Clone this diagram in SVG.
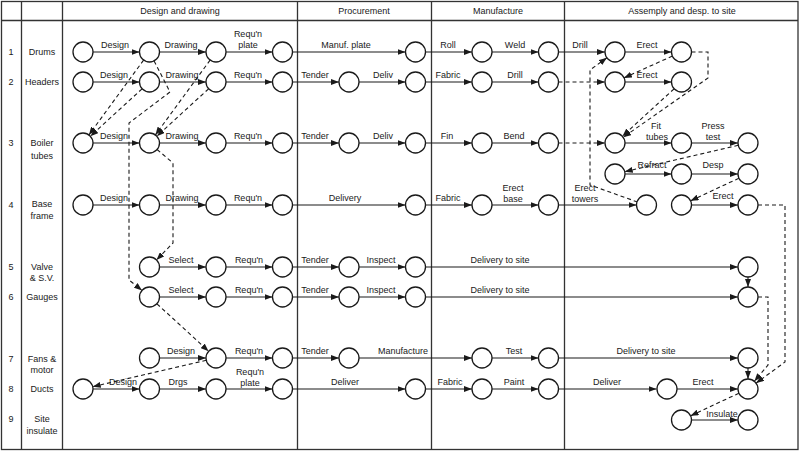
<svg xmlns="http://www.w3.org/2000/svg" width="800" height="451" viewBox="0 0 800 451">
<defs>
<marker id="ah" viewBox="0 0 8 6" refX="8" refY="3" markerWidth="8" markerHeight="6" markerUnits="userSpaceOnUse" orient="auto"><path d="M0,0 L8,3 L0,6 z" fill="#1a1a1a"/></marker>
<style>
.g{stroke:#333;stroke-width:1.3;fill:none}
.n circle{fill:#fff;stroke:#1a1a1a;stroke-width:1.3}
.e{stroke:#1a1a1a;stroke-width:1.1;fill:none;marker-end:url(#ah)}
.d{stroke:#1a1a1a;stroke-width:1.1;fill:none;stroke-dasharray:4,3;marker-end:url(#ah)}
.dn{stroke:#1a1a1a;stroke-width:1.1;fill:none;stroke-dasharray:4,3}
text{font-family:"Liberation Sans",Arial,sans-serif;font-size:9px;fill:#1a1a1a;text-anchor:middle}
</style>
</defs>
<rect x="0" y="0" width="800" height="451" fill="#fff"/>
<g id="grid">
<rect class="g" x="1.5" y="1.5" width="796.5" height="448"/>
<line class="g" x1="1.5" y1="20.5" x2="798" y2="20.5"/>
<line class="g" x1="21.5" y1="1.5" x2="21.5" y2="449.5"/>
<line class="g" x1="62.5" y1="1.5" x2="62.5" y2="449.5"/>
<line class="g" x1="297.5" y1="1.5" x2="297.5" y2="449.5"/>
<line class="g" x1="431.5" y1="1.5" x2="431.5" y2="449.5"/>
<line class="g" x1="564.5" y1="1.5" x2="564.5" y2="449.5"/>
<text x="180" y="14">Design and drawing</text>
<text x="364" y="14">Procurement</text>
<text x="498" y="14">Manufacture</text>
<text x="682" y="14">Assemply and desp. to site</text>
</g>
<g id="rowlabels">
<text x="11" y="55">1</text><text x="42" y="55">Drums</text>
<text x="11" y="85">2</text><text x="42" y="85">Headers</text>
<text x="11" y="146">3</text><text x="42" y="146">Boiler</text><text x="42" y="159">tubes</text>
<text x="11" y="208">4</text><text x="42" y="207">Base</text><text x="42" y="219">frame</text>
<text x="11" y="270">5</text><text x="42" y="270">Valve</text><text x="42" y="281">&amp; S.V.</text>
<text x="11" y="300">6</text><text x="42" y="300">Gauges</text>
<text x="11" y="362">7</text><text x="42" y="362">Fans &amp;</text><text x="42" y="373">motor</text>
<text x="11" y="392">8</text><text x="42" y="392">Ducts</text>
<text x="11" y="422">9</text><text x="42" y="422">Site</text><text x="42" y="434">insulate</text>
</g>
<g id="connectors">
<!-- row 1 -->
<line class="e" x1="93" y1="52" x2="139.5" y2="52"/><text x="115" y="48">Design</text>
<line class="e" x1="159.5" y1="52" x2="206" y2="52"/><text x="181" y="48">Drawing</text>
<line class="e" x1="226" y1="52" x2="272.5" y2="52"/><text x="248" y="37">Requ'n</text><text x="248" y="48">plate</text>
<line class="e" x1="292.5" y1="52" x2="405.5" y2="52"/><text x="346" y="48">Manuf. plate</text>
<line class="e" x1="425.5" y1="52" x2="472" y2="52"/><text x="448" y="48">Roll</text>
<line class="e" x1="492" y1="52" x2="538.5" y2="52"/><text x="515" y="48">Weld</text>
<line class="e" x1="558.5" y1="52" x2="605" y2="52"/><text x="580" y="48">Drill</text>
<line class="e" x1="625" y1="52" x2="671.5" y2="52"/><text x="647" y="48">Erect</text>
<!-- row 2 -->
<line class="e" x1="93" y1="82" x2="139.5" y2="82"/><text x="114" y="78">Design</text>
<line class="e" x1="159.5" y1="82" x2="206" y2="82"/><text x="182" y="78">Drawing</text>
<line class="e" x1="226" y1="82" x2="272.5" y2="82"/><text x="248" y="78">Requ'n</text>
<line class="e" x1="292.5" y1="82" x2="339" y2="82"/><text x="315" y="78">Tender</text>
<line class="e" x1="359" y1="82" x2="405.5" y2="82"/><text x="383" y="78">Deliv</text>
<line class="e" x1="425.5" y1="82" x2="472" y2="82"/><text x="448" y="78">Fabric</text>
<line class="e" x1="492" y1="82" x2="538.5" y2="82"/><text x="515" y="78">Drill</text>
<line class="d" x1="558.5" y1="82" x2="605" y2="82"/>
<line class="e" x1="625" y1="82" x2="671.5" y2="82"/><text x="647" y="78">Erect</text>
<!-- row 3 -->
<line class="e" x1="93" y1="143" x2="139.5" y2="143"/><text x="114" y="139">Design</text>
<line class="e" x1="159.5" y1="143" x2="206" y2="143"/><text x="182" y="139">Drawing</text>
<line class="e" x1="226" y1="143" x2="272.5" y2="143"/><text x="248" y="139">Requ'n</text>
<line class="e" x1="292.5" y1="143" x2="339" y2="143"/><text x="315" y="139">Tender</text>
<line class="e" x1="359" y1="143" x2="405.5" y2="143"/><text x="383" y="139">Deliv</text>
<line class="e" x1="425.5" y1="143" x2="472" y2="143"/><text x="447" y="139">Fin</text>
<line class="e" x1="492" y1="143" x2="538.5" y2="143"/><text x="514" y="139">Bend</text>
<line class="d" x1="558.5" y1="143" x2="605" y2="143"/>
<line class="e" x1="625" y1="143" x2="671.5" y2="143"/><text x="656" y="129">Fit</text><text x="657" y="140">tubes</text>
<line class="e" x1="691.5" y1="143" x2="738" y2="143"/><text x="713" y="129">Press</text><text x="713" y="140">test</text>
<line class="e" x1="625" y1="174" x2="671.5" y2="174"/><text x="652" y="168">Refract</text>
<line class="e" x1="691.5" y1="174" x2="738" y2="174"/><text x="713" y="168">Desp</text>
<!-- row 4 -->
<line class="e" x1="93" y1="205" x2="139.5" y2="205"/><text x="114" y="201">Design</text>
<line class="e" x1="159.5" y1="205" x2="206" y2="205"/><text x="182" y="201">Drawing</text>
<line class="e" x1="226" y1="205" x2="272.5" y2="205"/><text x="248" y="201">Requ'n</text>
<line class="e" x1="292.5" y1="205" x2="405.5" y2="205"/><text x="345" y="201">Delivery</text>
<line class="e" x1="425.5" y1="205" x2="472" y2="205"/><text x="448" y="201">Fabric</text>
<line class="e" x1="492" y1="205" x2="538.5" y2="205"/><text x="513" y="191">Erect</text><text x="513" y="202">base</text>
<line class="e" x1="558.5" y1="205" x2="636.5" y2="205"/><text x="585" y="191">Erect</text><text x="585" y="202">towers</text>
<line class="e" x1="691.5" y1="205" x2="738" y2="205"/><text x="723" y="199">Erect</text>
<!-- row 5 -->
<line class="e" x1="159.5" y1="267" x2="206" y2="267"/><text x="181" y="263">Select</text>
<line class="e" x1="226" y1="267" x2="272.5" y2="267"/><text x="249" y="263">Requ'n</text>
<line class="e" x1="292.5" y1="267" x2="339" y2="267"/><text x="315" y="263">Tender</text>
<line class="e" x1="359" y1="267" x2="405.5" y2="267"/><text x="381" y="263">Inspect</text>
<line class="e" x1="425.5" y1="267" x2="738" y2="267"/><text x="500" y="263">Delivery to site</text>
<!-- row 6 -->
<line class="e" x1="159.5" y1="297" x2="206" y2="297"/><text x="181" y="293">Select</text>
<line class="e" x1="226" y1="297" x2="272.5" y2="297"/><text x="249" y="293">Requ'n</text>
<line class="e" x1="292.5" y1="297" x2="339" y2="297"/><text x="315" y="293">Tender</text>
<line class="e" x1="359" y1="297" x2="405.5" y2="297"/><text x="381" y="293">Inspect</text>
<line class="e" x1="425.5" y1="297" x2="738" y2="297"/><text x="500" y="293">Delivery to site</text>
<line class="e" x1="748" y1="277" x2="748" y2="287"/>
<!-- row 7 -->
<line class="e" x1="159.5" y1="358" x2="206" y2="358"/><text x="181" y="354">Design</text>
<line class="e" x1="226" y1="358" x2="272.5" y2="358"/><text x="249" y="354">Requ'n</text>
<line class="e" x1="292.5" y1="358" x2="339" y2="358"/><text x="315" y="354">Tender</text>
<line class="e" x1="359" y1="358" x2="472" y2="358"/><text x="403" y="354">Manufacture</text>
<line class="e" x1="492" y1="358" x2="538.5" y2="358"/><text x="514" y="354">Test</text>
<line class="e" x1="558.5" y1="358" x2="738" y2="358"/><text x="646" y="354">Delivery to site</text>
<line class="e" x1="748" y1="368" x2="748" y2="379"/>
<!-- row 8 -->
<line class="e" x1="93" y1="389" x2="139.5" y2="389"/><text x="123" y="385">Design</text>
<line class="e" x1="159.5" y1="389" x2="206" y2="389"/><text x="178" y="385">Drgs</text>
<line class="e" x1="226" y1="389" x2="272.5" y2="389"/><text x="250" y="375">Requ'n</text><text x="250" y="386">plate</text>
<line class="e" x1="292.5" y1="389" x2="405.5" y2="389"/><text x="345" y="385">Deliver</text>
<line class="e" x1="425.5" y1="389" x2="472" y2="389"/><text x="450" y="385">Fabric</text>
<line class="e" x1="492" y1="389" x2="538.5" y2="389"/><text x="514" y="385">Paint</text>
<line class="e" x1="558.5" y1="389" x2="656.5" y2="389"/><text x="607" y="385">Deliver</text>
<line class="e" x1="677" y1="389" x2="738" y2="389"/><text x="703" y="385">Erect</text>
<!-- row 9 -->
<line class="e" x1="691.5" y1="420" x2="738" y2="420"/><text x="722" y="417">Insulate</text>
<!-- dashed dependencies -->
<line class="d" x1="143.6" y1="60.1" x2="88.9" y2="134.9"/>
<line class="d" x1="142.1" y1="88.8" x2="90.4" y2="136.2"/>
<line class="d" x1="210.1" y1="60.1" x2="155.4" y2="134.9"/>
<line class="d" x1="208.6" y1="88.8" x2="156.9" y2="136.2"/>
<polyline class="d" points="154.1,60.9 170,92 129,123 129,280 142,290.4"/>
<polyline class="d" points="157.1,149.5 173,163 173,243 156.5,259.9"/>
<line class="d" x1="156.9" y1="303.8" x2="208.6" y2="351.2"/>
<line class="d" x1="206.3" y1="360.3" x2="92.7" y2="386.7"/>
<polyline class="d" points="691.5,52 708,52 708,78 623.2,137.3"/>
<line class="d" x1="672.4" y1="56.1" x2="623.9" y2="77.9"/>
<line class="d" x1="674.1" y1="88.8" x2="622.4" y2="136.2"/>
<polyline class="d" points="637.5,202 590,185 590,70 606.9,57.8"/>
<line class="d" x1="738.3" y1="145.3" x2="624.7" y2="171.7"/>
<line class="d" x1="738.9" y1="178.2" x2="690.6" y2="200.8"/>
<polyline class="d" points="758,205 785,205 785,362 756.1,383.1"/>
<polyline class="d" points="758,297 768,297 768,365 754.4,381.3"/>
<line class="d" x1="738.9" y1="393.2" x2="690.6" y2="415.8"/>
</g>
<g id="nodes" class="n">
<g id="r1"><circle cx="83" cy="52" r="10"/><circle cx="149.5" cy="52" r="10"/><circle cx="216" cy="52" r="10"/><circle cx="282.5" cy="52" r="10"/><circle cx="415.5" cy="52" r="10"/><circle cx="482" cy="52" r="10"/><circle cx="548.5" cy="52" r="10"/><circle cx="615" cy="52" r="10"/><circle cx="681.5" cy="52" r="10"/></g>
<g id="r2"><circle cx="83" cy="82" r="10"/><circle cx="149.5" cy="82" r="10"/><circle cx="216" cy="82" r="10"/><circle cx="282.5" cy="82" r="10"/><circle cx="349" cy="82" r="10"/><circle cx="415.5" cy="82" r="10"/><circle cx="482" cy="82" r="10"/><circle cx="548.5" cy="82" r="10"/><circle cx="615" cy="82" r="10"/><circle cx="681.5" cy="82" r="10"/></g>
<g id="r3"><circle cx="83" cy="143" r="10"/><circle cx="149.5" cy="143" r="10"/><circle cx="216" cy="143" r="10"/><circle cx="282.5" cy="143" r="10"/><circle cx="349" cy="143" r="10"/><circle cx="415.5" cy="143" r="10"/><circle cx="482" cy="143" r="10"/><circle cx="548.5" cy="143" r="10"/><circle cx="615" cy="143" r="10"/><circle cx="681.5" cy="143" r="10"/><circle cx="748" cy="143" r="10"/><circle cx="615" cy="174" r="10"/><circle cx="681.5" cy="174" r="10"/><circle cx="748" cy="174" r="10"/></g>
<g id="r4"><circle cx="83" cy="205" r="10"/><circle cx="149.5" cy="205" r="10"/><circle cx="216" cy="205" r="10"/><circle cx="282.5" cy="205" r="10"/><circle cx="415.5" cy="205" r="10"/><circle cx="482" cy="205" r="10"/><circle cx="548.5" cy="205" r="10"/><circle cx="646.5" cy="205" r="10"/><circle cx="681.5" cy="205" r="10"/><circle cx="748" cy="205" r="10"/></g>
<g id="r5"><circle cx="149.5" cy="267" r="10"/><circle cx="216" cy="267" r="10"/><circle cx="282.5" cy="267" r="10"/><circle cx="349" cy="267" r="10"/><circle cx="415.5" cy="267" r="10"/><circle cx="748" cy="267" r="10"/></g>
<g id="r6"><circle cx="149.5" cy="297" r="10"/><circle cx="216" cy="297" r="10"/><circle cx="282.5" cy="297" r="10"/><circle cx="349" cy="297" r="10"/><circle cx="415.5" cy="297" r="10"/><circle cx="748" cy="297" r="10"/></g>
<g id="r7"><circle cx="149.5" cy="358" r="10"/><circle cx="216" cy="358" r="10"/><circle cx="282.5" cy="358" r="10"/><circle cx="349" cy="358" r="10"/><circle cx="482" cy="358" r="10"/><circle cx="548.5" cy="358" r="10"/><circle cx="748" cy="358" r="10"/></g>
<g id="r8"><circle cx="83" cy="389" r="10"/><circle cx="149.5" cy="389" r="10"/><circle cx="216" cy="389" r="10"/><circle cx="282.5" cy="389" r="10"/><circle cx="415.5" cy="389" r="10"/><circle cx="482" cy="389" r="10"/><circle cx="548.5" cy="389" r="10"/><circle cx="667" cy="389" r="10"/><circle cx="748" cy="389" r="10"/></g>
<g id="r9"><circle cx="681.5" cy="420" r="10"/><circle cx="748" cy="420" r="10"/></g>
</g>
</svg>
